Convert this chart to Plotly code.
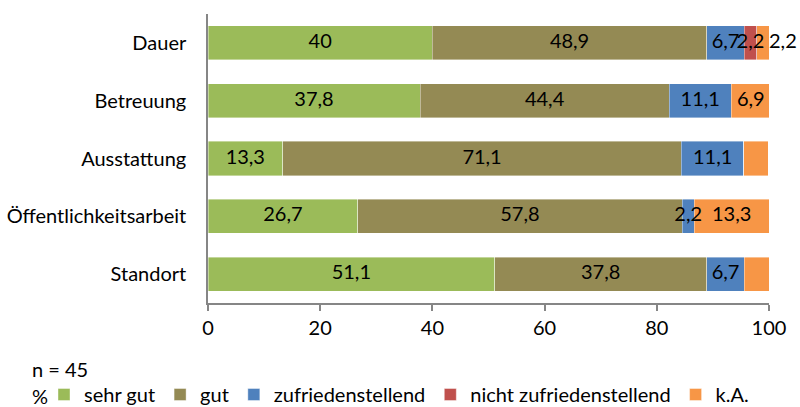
import plotly.graph_objects as go

categories = ["Dauer", "Betreuung", "Ausstattung", "Öffentlichkeitsarbeit", "Standort"]
series_names = ["sehr gut", "gut", "zufriedenstellend", "nicht zufriedenstellend", "k.A."]
sehr_gut = [40.0, 37.8, 13.3, 26.7, 51.1]
gut = [48.9, 44.4, 71.1, 57.8, 37.8]
zufrieden = [6.7, 11.1, 11.1, 2.2, 6.7]
nicht_zufrieden = [2.2, 0.0, 0.0, 0.0, 0.0]
k_a = [2.2, 6.9, 4.4, 13.3, 4.4]
# which value labels are shown in the original
show_labels = {
    "sehr gut": [True, True, True, True, True],
    "gut": [True, True, True, True, True],
    "zufriedenstellend": [True, True, True, True, True],
    "nicht zufriedenstellend": [True, False, False, False, False],
    "k.A.": [True, True, False, True, False],
}
# labels placed outside (right of the bar end)
outside_labels = {"k.A.": [True, False, False, False, False]}
x_ticks = [0, 20, 40, 60, 80, 100]

colors = ["#9BBB59", "#948A54", "#4F81BD", "#C0504D", "#F79646"]
FONT = "Lato, 'Open Sans', sans-serif"
FS = 20

def fmt(v):
    return ("%g" % v).replace(".", ",")

all_series = [sehr_gut, gut, zufrieden, nicht_zufrieden, k_a]

fig = go.Figure()
for name, vals, col in zip(series_names, all_series, colors):
    fig.add_trace(go.Bar(
        y=categories, x=vals, name=name, orientation="h",
        marker=dict(color=col, line=dict(color="rgba(255,255,255,0.5)", width=0.8)),
        hoverinfo="skip",
    ))

# value labels on top of all bars
base = [0.0] * len(categories)
lab_x, lab_y, lab_t, lab_pos = [], [], [], []
for name, vals in zip(series_names, all_series):
    outs = outside_labels.get(name, [False] * len(categories))
    for i, v in enumerate(vals):
        if show_labels[name][i]:
            if outs[i]:
                lab_x.append(min(round(base[i] + v, 4), 100.0))
                lab_pos.append("middle right")
            else:
                lab_x.append(round(base[i] + v / 2, 4))
                lab_pos.append("middle center")
            lab_y.append(categories[i])
            lab_t.append(fmt(v))
        base[i] = round(base[i] + v, 4)

fig.add_trace(go.Scatter(
    x=lab_x, y=lab_y, text=lab_t, mode="text", textposition=lab_pos,
    textfont=dict(family=FONT, size=FS, color="black"),
    showlegend=False, hoverinfo="skip", cliponaxis=False,
))

plot_l, plot_r, plot_t, plot_b = 208, 769, 14, 303
def px2paper(xp, yp):
    return (xp - plot_l) / (plot_r - plot_l), (plot_b - yp) / (plot_b - plot_t)

lx, ly = px2paper(44, 375)

fig.update_layout(
    barmode="stack",
    bargap=0.41,
    width=800, height=407,
    margin=dict(l=plot_l, r=800 - plot_r, t=plot_t, b=407 - plot_b, autoexpand=False),
    paper_bgcolor="white", plot_bgcolor="white",
    font=dict(family=FONT, size=FS, color="black"),
    xaxis=dict(range=[0, 100], tickvals=x_ticks, showgrid=False, zeroline=False,
               showline=True, linecolor="#868686", linewidth=1.5,
               ticks="outside", ticklen=6, tickcolor="#868686", tickwidth=1.5,
               automargin=False,
               tickfont=dict(family=FONT, size=FS, color="black")),
    yaxis=dict(autorange="reversed", showgrid=False, zeroline=False,
               showline=True, linecolor="#868686", linewidth=1.5,
               ticks="", ticklabelstandoff=16, automargin=False,
               tickfont=dict(family=FONT, size=FS, color="black")),
    legend=dict(orientation="h", x=lx, y=ly, xanchor="left", yanchor="top",
                traceorder="normal", itemwidth=30,
                font=dict(family=FONT, size=FS, color="black")),
    showlegend=True,
)

ax1, ay1 = px2paper(30, 369)
ax2, ay2 = px2paper(30, 396)
fig.add_annotation(text="n = 45", x=ax1, y=ay1, xref="paper", yref="paper",
                   xanchor="left", yanchor="middle", showarrow=False,
                   font=dict(family=FONT, size=FS, color="black"))
fig.add_annotation(text="%", x=ax2, y=ay2, xref="paper", yref="paper",
                   xanchor="left", yanchor="middle", showarrow=False,
                   font=dict(family=FONT, size=FS, color="black"))

fig.write_html("out.html", config={"displayModeBar": False},
               post_script="document.body.style.margin='0';document.body.style.overflow='hidden';")
